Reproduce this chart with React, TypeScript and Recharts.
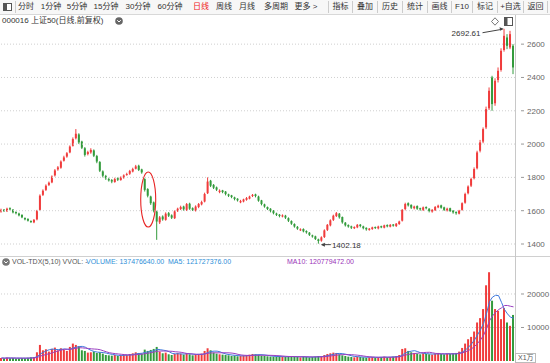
import React from 'react';
import { ComposedChart, Bar, Line, XAxis, YAxis, ReferenceLine, ReferenceDot, Cell } from 'recharts';

const opens = [1595,1606,1597,1615,1606,1592,1583,1575,1556,1550,1538,1530,1548,1605,1695,1725,1755,1770,1812,1848,1858,1900,1925,1950,1990,2035,2058,2015,1975,1940,1950,1962,1928,1892,1836,1808,1790,1784,1772,1795,1784,1798,1815,1822,1835,1852,1870,1848,1790,1730,1685,1650,1595,1530,1565,1545,1585,1572,1555,1598,1610,1625,1605,1642,1615,1600,1622,1638,1655,1705,1780,1755,1740,1712,1722,1715,1698,1692,1680,1672,1650,1655,1665,1672,1688,1698,1685,1662,1638,1622,1612,1600,1583,1576,1565,1570,1555,1538,1520,1503,1485,1490,1478,1468,1452,1446,1428,1420,1442,1485,1512,1545,1568,1582,1562,1528,1514,1506,1495,1500,1516,1506,1497,1485,1490,1502,1494,1507,1498,1514,1504,1517,1508,1520,1540,1610,1645,1635,1615,1628,1615,1605,1622,1612,1595,1603,1620,1632,1620,1602,1615,1600,1592,1582,1605,1648,1705,1750,1795,1855,1960,2015,2100,2215,2400,2245,2385,2445,2565,2640,2580,2590];
const closes = [1605,1598,1612,1608,1590,1585,1572,1560,1548,1540,1532,1545,1600,1690,1720,1750,1768,1805,1842,1860,1895,1920,1945,1985,2030,2062,2010,1978,1935,1952,1965,1930,1895,1840,1810,1795,1782,1775,1790,1786,1800,1812,1820,1838,1850,1866,1845,1830,1725,1690,1645,1600,1535,1560,1548,1582,1570,1558,1596,1612,1622,1608,1640,1612,1605,1625,1640,1652,1700,1775,1750,1738,1726,1720,1712,1700,1690,1682,1670,1662,1658,1668,1676,1685,1695,1688,1660,1640,1625,1610,1598,1585,1575,1568,1572,1558,1540,1522,1505,1492,1488,1476,1470,1455,1445,1430,1418,1440,1482,1515,1542,1570,1585,1560,1530,1512,1505,1498,1502,1515,1508,1495,1488,1492,1500,1496,1505,1500,1512,1506,1515,1510,1522,1535,1605,1640,1632,1618,1625,1612,1608,1620,1615,1598,1605,1622,1630,1618,1605,1612,1598,1590,1585,1600,1645,1700,1745,1790,1850,1950,2010,2090,2210,2320,2240,2380,2440,2560,2650,2590,2660,2460];
const highs = [1612,1610,1618,1620,1610,1596,1588,1578,1560,1555,1542,1550,1605,1698,1728,1758,1775,1812,1850,1868,1902,1930,1952,1992,2040,2090,2065,2020,1982,1960,1975,1968,1935,1898,1842,1815,1798,1790,1798,1800,1806,1818,1828,1845,1858,1875,1876,1852,1795,1735,1690,1655,1600,1568,1572,1590,1592,1578,1602,1618,1630,1630,1646,1648,1620,1632,1646,1660,1708,1800,1785,1760,1745,1728,1725,1718,1702,1695,1684,1675,1665,1672,1682,1690,1700,1702,1690,1665,1642,1625,1615,1604,1588,1580,1578,1575,1560,1542,1524,1508,1494,1494,1482,1472,1456,1450,1432,1446,1488,1520,1548,1576,1592,1586,1565,1532,1518,1510,1506,1520,1520,1510,1500,1496,1504,1505,1510,1510,1516,1518,1520,1520,1526,1540,1610,1648,1650,1638,1630,1632,1618,1625,1626,1615,1610,1628,1636,1636,1624,1618,1618,1604,1596,1605,1650,1708,1752,1798,1860,1960,2025,2100,2225,2340,2410,2395,2460,2575,2692,2660,2680,2600];
const lows = [1588,1592,1592,1602,1584,1578,1566,1555,1542,1535,1526,1525,1542,1600,1688,1718,1748,1765,1805,1840,1852,1895,1918,1945,1985,2028,2000,1970,1925,1932,1942,1922,1885,1832,1800,1785,1775,1765,1768,1778,1780,1792,1810,1815,1830,1848,1838,1822,1715,1680,1635,1590,1425,1520,1540,1540,1562,1550,1550,1592,1604,1600,1598,1605,1598,1595,1615,1632,1650,1700,1742,1730,1718,1705,1705,1692,1682,1675,1662,1655,1645,1650,1660,1668,1682,1680,1654,1632,1618,1604,1590,1578,1568,1560,1560,1550,1532,1515,1498,1485,1478,1470,1462,1448,1438,1424,1402,1414,1436,1478,1506,1538,1562,1552,1522,1505,1498,1490,1490,1495,1500,1488,1480,1480,1485,1490,1488,1495,1494,1500,1500,1504,1502,1515,1535,1602,1625,1610,1608,1605,1600,1598,1608,1590,1588,1598,1615,1612,1598,1595,1592,1582,1576,1578,1600,1642,1698,1742,1788,1848,1950,2005,2090,2205,2200,2230,2370,2435,2555,2570,2570,2420];
const volumes = [900,800,1000,850,900,750,800,900,850,950,1100,1200,2600,4800,3200,3500,2800,3600,4000,3200,3800,3400,3000,4200,5200,4800,4400,3200,3000,2500,2600,2800,2400,2600,2200,1800,1700,1600,1800,1500,1700,1900,1800,2100,2300,2600,2400,2200,3400,3000,3300,3600,4200,2800,2300,2500,2000,1800,2100,2400,2200,1900,2300,2000,1700,1800,2000,2200,3000,3800,3200,2500,2200,2000,1900,1800,1700,1500,1600,1400,1500,1600,1700,1900,2100,2000,1800,1600,1500,1400,1300,1300,1200,1400,1300,1200,1300,1400,1300,1200,1100,1300,1200,1100,1200,1300,1500,1400,1800,2100,2300,2500,2400,2000,1700,1500,1300,1200,1100,1300,1200,1100,1000,1100,1200,1000,1100,1200,1300,1100,1200,1300,1500,1800,3600,3800,3000,2600,2400,2200,2000,2300,2100,2000,1900,2200,2400,2100,2000,2200,2100,2300,2400,2800,3900,5200,6500,7200,8800,11500,12800,15500,22600,26500,18000,15500,15000,12500,15800,11500,10500,13748];

const priceTicks = [1400, 1600, 1800, 2000, 2200, 2400, 2600];
const volTicks = [10000, 20000];
const periodTabs = ['分时', '1分钟', '5分钟', '15分钟', '30分钟', '60分钟', '日线', '周线', '月线', '多周期', '更多 >'];
const toolButtons = ['指标', '叠加', '历史', '统计', '画线', 'F10', '标记', '+自选', '返回'];

const tabCenters = [26, 51, 77, 106, 138, 170, 201, 224, 247, 276, 306];
const buttonEdges = [328, 352, 377, 402, 427, 451, 472, 497, 523, 547];

const UP = '#f03c3c';
const DOWN = '#339b3c';
const FONT = '"Liberation Sans", Arial, "Noto Sans CJK SC", sans-serif';

const avg = (arr: number[], i: number, n: number) => {
  const s = arr.slice(Math.max(0, i - n + 1), i + 1);
  return s.reduce((a, b) => a + b, 0) / s.length;
};

const data = closes.map((c, i) => ({
  i,
  open: opens[i],
  close: c,
  high: highs[i],
  low: lows[i],
  range: [lows[i], highs[i]],
  vol: volumes[i],
  ma5: avg(volumes, i, 5),
  ma10: avg(volumes, i, 10),
}));

const Candle = (props: any) => {
  const { x, y, width, height, payload } = props;
  if (!payload) return null;
  const { open, close, high, low } = payload;
  const top = height < 0 ? y + height : y;
  const h = Math.abs(height);
  const k = h / Math.max(high - low, 1);
  const yo = top + (high - open) * k;
  const yc = top + (high - close) * k;
  const color = close >= open ? UP : DOWN;
  const cx = x + width / 2;
  const bt = Math.min(yo, yc);
  const bh = Math.max(Math.abs(yc - yo), 1);
  return (
    <g>
      <line x1={cx} x2={cx} y1={top} y2={top + h} stroke={color} strokeWidth={1} />
      <rect x={x} y={bt} width={width} height={bh} fill={color} />
    </g>
  );
};

const T = ({ x, y, color = '#333', children, anchor = 'left', size = 8 }: any) => (
  <div
    style={{
      position: 'absolute',
      left: x,
      top: y,
      transform: anchor === 'center' ? 'translateX(-50%)' : undefined,
      color,
      fontSize: size,
      lineHeight: '10px',
      whiteSpace: 'nowrap',
      fontFamily: FONT,
    }}
  >
    {children}
  </div>
);

const PriceTick = (props: any) => {
  const { x, y, payload } = props;
  return (
    <g>
      <line x1={x - 2} x2={x + 1} y1={y} y2={y} stroke="#999" />
      <text x={x + 4} y={y + 3} fontSize={8} fill="#666" fontFamily={FONT}>
        {payload.value}
      </text>
    </g>
  );
};

export default function App() {
  return (
    <div style={{ position: 'absolute', left: 0, top: 0, width: 550, height: 363, background: '#fff', overflow: 'hidden' }}>
      {/* toolbar */}
      <div style={{ position: 'absolute', left: 0, top: 0, width: 550, height: 14, background: '#f7f7f7', borderBottom: '1px solid #d8d8d8' }} />
      <div style={{ position: 'absolute', left: 3, top: 3, width: 7, height: 6, border: '1px solid #555', background: '#fff' }}>
        <div style={{ position: 'absolute', left: 0, top: 0, width: 3, height: 6, background: '#555' }} />
      </div>
      <div style={{ position: 'absolute', left: 15, top: 1, width: 1, height: 12, background: '#ccc' }} />
      {periodTabs.map((t, k) => (
        <T key={t} x={tabCenters[k]} y={2} anchor="center" color={t === '日线' ? '#f02020' : '#333'}>
          {t}
        </T>
      ))}
      {toolButtons.map((t, k) => (
        <React.Fragment key={t}>
          <div style={{ position: 'absolute', left: buttonEdges[k], top: 1, width: 1, height: 12, background: '#ccc' }} />
          <T x={(buttonEdges[k] + buttonEdges[k + 1]) / 2 + 0.5} y={2} anchor="center">
            {t}
          </T>
        </React.Fragment>
      ))}
      <div style={{ position: 'absolute', left: buttonEdges[buttonEdges.length - 1], top: 1, width: 1, height: 12, background: '#ccc' }} />

      {/* title line */}
      <T x={2} y={16}>000016 上证50(日线,前复权)</T>
      <svg style={{ position: 'absolute', left: 115, top: 17 }} width={8} height={8}>
        <circle cx={4} cy={4} r={3.8} fill="#666" />
        <path d="M2.2 3.2 L4 5 L5.8 3.2" stroke="#fff" strokeWidth={1} fill="none" />
      </svg>
      <svg style={{ position: 'absolute', left: 489, top: 17 }} width={26} height={9}>
        <path d="M6 0.8 L9.5 4.5 L6 8.2 L2.5 4.5 Z" stroke="#666" fill="none" strokeWidth={0.9} />
        <rect x={15.5} y={0.5} width={8} height={8} stroke="#555" fill="#fff" />
        <rect x={15.5} y={0.5} width={3} height={8} fill="#555" />
      </svg>

      {/* price panel */}
      <div style={{ position: 'absolute', left: 0, top: 16 }}>
        <ComposedChart width={550} height={240} data={data} margin={{ top: 0, right: 0, bottom: 0, left: 0 }} barCategoryGap={0}>
          <XAxis dataKey="i" hide />
          <YAxis
            orientation="right"
            width={35}
            domain={[1328, 2769]}
            ticks={priceTicks}
            allowDataOverflow
            axisLine={false}
            tickLine={false}
            tick={<PriceTick />}
          />
          {priceTicks.map((v) => (
            <ReferenceLine key={v} y={v} stroke="#cfcfcf" strokeDasharray="1 2" />
          ))}
          <Bar dataKey="range" barSize={2} shape={<Candle />} isAnimationActive={false} />
          <ReferenceDot
            x={168}
            y={2692.61}
            r={0}
            isFront
            shape={(p: any) => (
              <g>
                <line x1={p.cx - 22} y1={p.cy + 4} x2={p.cx - 2} y2={p.cy + 0.5} stroke="#444" />
                <path d={`M${p.cx - 1} ${p.cy} l-4 -1.5 l0.8 3.5 z`} fill="#444" />
                <text x={p.cx - 24} y={p.cy + 7} textAnchor="end" fontSize={8} fill="#333" fontFamily={FONT}>
                  2692.61
                </text>
              </g>
            )}
          />
          <ReferenceDot
            x={106}
            y={1402.18}
            r={0}
            isFront
            shape={(p: any) => (
              <g>
                <line x1={p.cx + 3} y1={p.cy + 1} x2={p.cx + 12} y2={p.cy + 1} stroke="#444" />
                <path d={`M${p.cx + 2} ${p.cy + 1} l4 -2 l0 4 z`} fill="#444" />
                <text x={p.cx + 13} y={p.cy + 4} fontSize={8} fill="#333" fontFamily={FONT}>
                  1402.18
                </text>
              </g>
            )}
          />
          <ReferenceDot
            x={49}
            y={1667}
            r={0}
            isFront
            shape={(p: any) => <ellipse cx={p.cx} cy={p.cy} rx={7.5} ry={27.5} stroke="#e82424" strokeWidth={1.1} fill="none" />}
          />
        </ComposedChart>
      </div>

      {/* separator + axis line */}
      <div style={{ position: 'absolute', left: 0, top: 256, width: 550, height: 1, background: '#d0d0d0' }} />
      <div style={{ position: 'absolute', left: 515, top: 15, width: 1, height: 348, background: '#c8c8c8' }} />

      {/* volume panel */}
      <div style={{ position: 'absolute', left: 0, top: 256 }}>
        <ComposedChart width={550} height={105} data={data} margin={{ top: 0, right: 0, bottom: 0, left: 0 }} barCategoryGap={0}>
          <XAxis dataKey="i" hide />
          <YAxis
            orientation="right"
            width={35}
            domain={[0, 31343]}
            ticks={volTicks}
            allowDataOverflow
            axisLine={false}
            tickLine={false}
            tick={<PriceTick />}
          />
          {volTicks.map((v) => (
            <ReferenceLine key={v} y={v} stroke="#cfcfcf" strokeDasharray="1 2" />
          ))}
          <Bar dataKey="vol" barSize={2} isAnimationActive={false}>
            {data.map((d) => (
              <Cell key={d.i} fill={d.close >= d.open ? UP : DOWN} />
            ))}
          </Bar>
          <Line dataKey="ma5" stroke="#3f78dc" strokeWidth={1} dot={false} isAnimationActive={false} />
          <Line dataKey="ma10" stroke="#9a3fc0" strokeWidth={1} dot={false} isAnimationActive={false} />
        </ComposedChart>
      </div>

      {/* volume header */}
      <svg style={{ position: 'absolute', left: 2, top: 258 }} width={8} height={8}>
        <circle cx={4} cy={4} r={3.8} fill="#777" />
        <path d="M2.2 3.2 L4 5 L5.8 3.2" stroke="#fff" strokeWidth={1} fill="none" />
      </svg>
      <T x={12} y={257} color="#555" size={7}>VOL-TDX(5,10) VVOL: -</T>
      <T x={86} y={257} color="#2f8fd8" size={7}>VOLUME: 137476640.00</T>
      <T x={168} y={257} color="#2f8fd8" size={7}>MA5: 121727376.00</T>
      <T x={287} y={257} color="#9a35b8" size={7}>MA10: 120779472.00</T>

      {/* unit box */}
      <div style={{ position: 'absolute', left: 515, top: 353, width: 21, height: 10, border: '1px solid #bbb', background: '#fff', boxSizing: 'border-box' }} />
      <T x={518} y={353} color="#555" size={7}>X1万</T>
    </div>
  );
}
